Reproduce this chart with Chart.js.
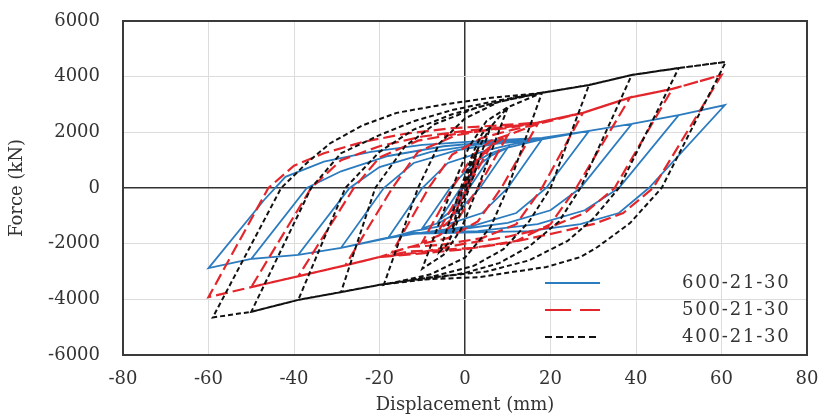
<!DOCTYPE html>
<html>
<head>
<meta charset="utf-8">
<script src="https://cdn.jsdelivr.net/npm/chart.js@4.4.1/dist/chart.umd.min.js"></script>
<style>
html,body{margin:0;padding:0;background:#fff;}
#wrap{width:820px;height:416px;}
</style>
</head>
<body>
<div id="wrap"><canvas id="c" width="820" height="416"></canvas></div>
<script>
// ---- data (displacement mm, force kN) ----
const seriesNames = ["600-21-30", "500-21-30", "400-21-30"];
const xTicks = [-80, -60, -40, -20, 0, 20, 40, 60, 80];
const yTicks = [-6000, -4000, -2000, 0, 2000, 4000, 6000];

// 600-21-30
const blueX = [0, 3, -0.5, -3, 0.5, 3,
  6, 1, -3, -6, -1, 3, 6,
  10, 3.5, -2, -6, -10, -3.5, 2, 6, 10,
  18, 10, 4, -5, -12, -18, -10, -4, 5, 12, 18,
  29, 19, 12, 2, -10, -18, -29, -19, -12, -2, 8, 18, 29,
  39, 27, 20, 10, -2, -15, -29, -39, -27, -20, -8, 5, 18, 29, 39,
  50, 36, 28, 17, 3, -13, -20, -29, -39, -50, -37, -29, -18, -5, 10, 18, 29, 39, 50,
  60.8, 43, 36, 27, 15, 0, -13, -20, -29, -39, -50, -60, -47, -42, -33, -22, -10, 5, 18, 29, 39, 50, 60.8];
const blueY = [0, 800, 0, -800, 0, 800,
  1150, 0, -800, -1150, 0, 800, 1150,
  1450, 0, -900, -1250, -1450, 0, 900, 1250, 1450,
  1750, 0, -900, -1350, -1550, -1800, 0, 900, 1350, 1600, 1750,
  2050, 0, -900, -1350, -1600, -1800, -2150, 0, 900, 1350, 1600, 1750, 2050,
  2300, 0, -800, -1250, -1500, -1700, -2150, -2400, 0, 750, 1300, 1600, 1750, 2050, 2300,
  2620, 0, -800, -1300, -1550, -1620, -1850, -2150, -2400, -2550, 0, 600, 1150, 1500, 1700, 1800, 2050, 2300, 2620,
  2980, 0, -900, -1300, -1550, -1600, -1650, -1850, -2150, -2400, -2550, -2880, -430, 400, 950, 1300, 1550, 1700, 1800, 2050, 2300, 2620, 2980];

// 500-21-30
const redX = [0, 3, -0.8, -3, 0.8, 3,
  6, 0.5, -3, -6, -0.5, 3, 6,
  10, 3, -2, -6, -10, -3, 2, 6, 10,
  17, 8.5, 3, -4, -10, -17, -8.5, -3, 4, 10, 17,
  27.6, 18, 12, 4, -6, -13, -20, -28, -17, -11, -2, 8, 17, 27.6,
  38.6, 26, 20, 12, 2, -8, -13, -20, -28, -39, -26, -20, -11, 0, 10, 17, 27.6, 38.6,
  48.5, 35, 28, 20, 10, 0, -10, -20, -28, -39, -50, -36, -29, -20, -10, 0, 10, 17, 27.6, 38.6, 48.5,
  60, 44, 37, 30, 23, 11, 0, -10, -20, -28, -39, -50, -60, -46, -40, -33, -24, -14, -3, 8, 17, 27.6, 38.6, 48.5, 60];
const redY = [0, 1000, 0, -1000, 0, 1000,
  1500, 0, -1100, -1500, 0, 1100, 1500,
  1900, 0, -1200, -1700, -1950, 0, 1200, 1700, 1900,
  2300, 0, -1200, -1800, -2000, -2300, 0, 1200, 1800, 2050, 2300,
  2700, 0, -1300, -1800, -2050, -2120, -2480, -2780, 0, 1300, 1900, 2150, 2350, 2700,
  3250, 0, -1300, -1900, -2150, -2250, -2280, -2480, -2780, -3170, 0, 1100, 1700, 2000, 2150, 2350, 2700, 3250,
  3560, 0, -900, -1400, -1750, -2000, -2300, -2480, -2780, -3170, -3560, 0, 1000, 1500, 1850, 2050, 2200, 2350, 2700, 3250, 3560,
  4060, 0, -900, -1300, -1550, -1950, -2200, -2350, -2480, -2780, -3170, -3560, -3920, 0, 800, 1250, 1650, 1950, 2150, 2250, 2350, 2700, 3250, 3560, 4060];

// 400-21-30
const blackX = [0, 3, 0.5, -1.5, -3, -0.5, 1.5, 3,
  6, 1, -2, -4, -6, -1, 2, 4, 6,
  10, 3, -1, -5, -10, -3, 1, 5, 10,
  18, 10, 6, 0, -8, -19, -11, -6, 0, 8, 18,
  29, 20, 15, 9, 2, -8, -20, -29, -21, -14, -7, 3, 12, 18, 29,
  39, 27, 22, 15, 8, 0, -10, -20, -29, -39, -28, -20, -12, -3, 8, 18, 29, 39,
  50, 36, 30, 24, 15, 5, -10, -20, -29, -39, -50, -36, -29, -20, -12, -3, 8, 18, 29, 39, 50,
  61, 46, 38.6, 31, 27, 19, 11, 3.5, -12, -20, -29, -39, -50, -59, -43, -37, -31.6, -24, -16, -5, 5, 18, 29, 39, 50, 61];
const blackY = [0, 1400, 0, -900, -1500, 0, 900, 1400,
  2200, 0, -1300, -2000, -2300, 0, 1300, 1950, 2200,
  2900, 0, -1500, -2400, -2900, 0, 1500, 2400, 2900,
  3420, 0, -1400, -2500, -3100, -3480, 0, 1600, 2500, 3100, 3420,
  3700, 0, -1200, -2200, -2800, -3200, -3480, -3740, 0, 1500, 2300, 2900, 3250, 3420, 3700,
  4060, 0, -1200, -2100, -2700, -3050, -3300, -3480, -3740, -4020, 0, 1300, 2100, 2650, 3100, 3420, 3700, 4060,
  4310, 0, -1100, -1900, -2600, -3000, -3250, -3480, -3740, -4020, -4450, 0, 1250, 1900, 2400, 2800, 3150, 3420, 3700, 4060, 4310,
  4530, 0, -1260, -2120, -2480, -2840, -3020, -3200, -3300, -3480, -3740, -4020, -4450, -4650, 0, 900, 1600, 2250, 2700, 3000, 3220, 3420, 3700, 4060, 4310, 4530];

function pts(xs, ys) { return xs.map((x, i) => ({x: x, y: ys[i]})); }

const serif = "'DejaVu Serif', 'Liberation Serif', serif";

const frame = {
  id: 'frame',
  beforeDatasetsDraw(chart) {
    const {ctx, chartArea: a} = chart;
    ctx.save();
    ctx.strokeStyle = '#3a3a3a';
    ctx.lineWidth = 2;
    ctx.strokeRect(a.left, a.top, a.right - a.left, a.bottom - a.top);
    ctx.restore();
  }
};

const legendBox = {
  id: 'legendBox',
  afterDraw(chart) {
    const {ctx} = chart;
    const rows = [283, 310, 337];
    ctx.save();
    chart.data.datasets.forEach((ds, i) => {
      const y = rows[i];
      ctx.strokeStyle = ds.borderColor;
      ctx.lineWidth = ds.borderWidth;
      ctx.setLineDash(ds.legendDash);
      ctx.beginPath();
      ctx.moveTo(545, y);
      ctx.lineTo(600, y);
      ctx.stroke();
      ctx.setLineDash([]);
      ctx.fillStyle = '#333';
      ctx.font = '18px ' + serif;
      ctx.letterSpacing = '1.8px';
      ctx.textBaseline = 'middle';
      ctx.textAlign = 'left';
      ctx.fillText(ds.label, 682, y);
    });
    ctx.restore();
  }
};

new Chart(document.getElementById('c'), {
  type: 'scatter',
  data: {
    datasets: [
      {label: seriesNames[0], data: pts(blueX, blueY), borderColor: '#2b7bbf', backgroundColor: '#2b7bbf',
       borderWidth: 1.8, borderDash: [], legendDash: [], order: 3},
      {label: seriesNames[1], data: pts(redX, redY), borderColor: '#e3262b', backgroundColor: '#e3262b',
       borderWidth: 2.2, borderDash: [12, 5], legendDash: [26, 9], order: 2},
      {label: seriesNames[2], data: pts(blackX, blackY), borderColor: '#111', backgroundColor: '#111',
       borderWidth: 2, borderDash: [5, 3], legendDash: [7, 4], order: 1}
    ]
  },
  options: {
    responsive: false,
    devicePixelRatio: 1,
    animation: false,
    showLine: true,
    elements: {point: {radius: 0, hoverRadius: 0}, line: {tension: 0, fill: false}},
    layout: {padding: {top: 21, right: 13, bottom: 0, left: 0}, autoPadding: false},
    plugins: {legend: {display: false}, tooltip: {enabled: false}},
    scales: {
      x: {
        type: 'linear', min: -80, max: 80,
        afterBuildTicks: (s) => { s.ticks = xTicks.map(v => ({value: v})); },
        afterFit: (s) => { s.height = 61; s.paddingLeft = 0; s.paddingRight = 0; },
        ticks: {font: {family: serif, size: 18}, color: '#333', padding: 14, callback: (v) => String(v)},
        grid: {drawTicks: false, color: (c) => c.tick && c.tick.value === 0 ? '#333' : '#dcdcdc',
               lineWidth: (c) => c.tick && c.tick.value === 0 ? 1.5 : 1},
        border: {display: false},
        title: {display: true, text: 'Displacement (mm)', font: {family: serif, size: 18}, color: '#333', padding: {top: 0, bottom: 0}}
      },
      y: {
        type: 'linear', min: -6000, max: 6000,
        afterBuildTicks: (s) => { s.ticks = yTicks.map(v => ({value: v})); },
        afterFit: (s) => { s.width = 123; s.paddingTop = 0; s.paddingBottom = 0; },
        ticks: {font: {family: serif, size: 18}, color: '#333', padding: 23, callback: (v) => String(v)},
        grid: {drawTicks: false, color: (c) => c.tick && c.tick.value === 0 ? '#333' : '#dcdcdc',
               lineWidth: (c) => c.tick && c.tick.value === 0 ? 1.5 : 1},
        border: {display: false},
        title: {display: true, text: 'Force (kN)', font: {family: serif, size: 18}, color: '#333', padding: {top: 7, bottom: 0}}
      }
    }
  },
  plugins: [frame, legendBox]
});
</script>
</body>
</html>
